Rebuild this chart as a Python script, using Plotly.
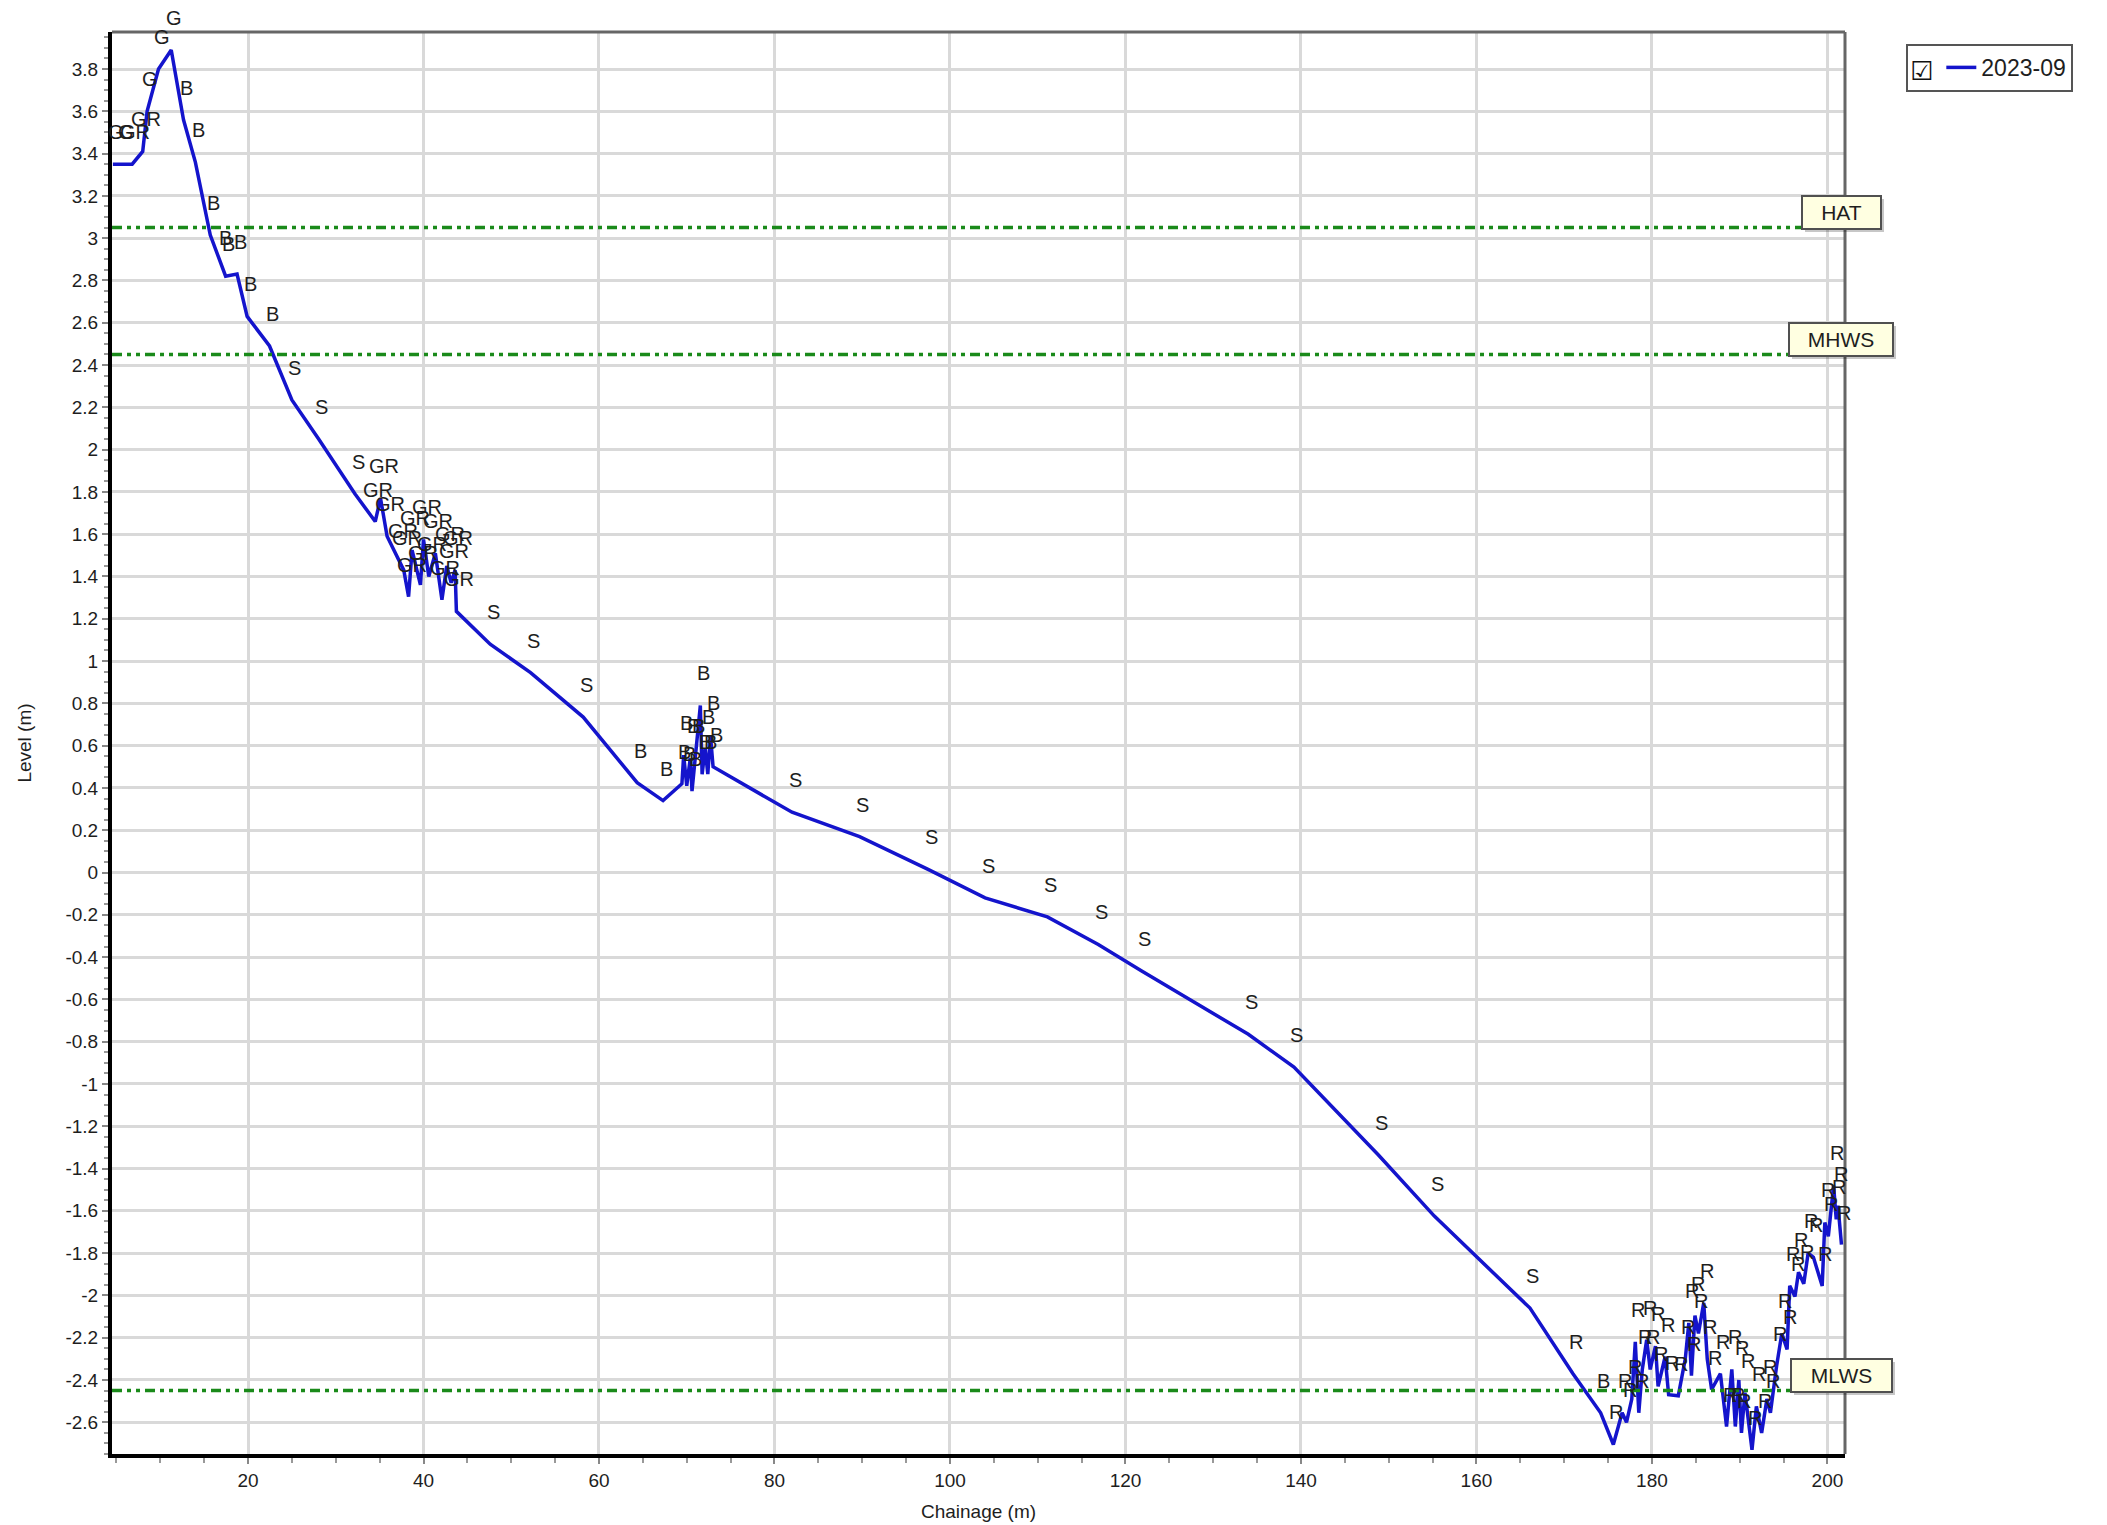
import plotly.graph_objects as go

# ---- survey profile (chainage m, level m, feature code) ----
chainage = [4.6, 5.7, 6.8, 8.0, 8.5, 9.8, 11.25, 12.65, 14.0, 15.7,
            17.1, 17.45, 18.75, 19.9, 22.45, 25.0, 28.05, 32.2,
            34.5, 35.1, 35.85, 37.35, 37.75, 38.3, 38.7, 39.65, 40.0, 40.6,
            41.35, 42.1, 42.65, 43.15, 43.6, 43.75,
            47.6, 52.2, 58.2, 64.35, 67.3,
            69.45, 69.65, 70.0, 70.4, 70.6, 70.95, 71.55, 71.75, 72.1, 72.4, 72.7, 73.0,
            82.0, 89.7, 97.5, 104.0, 111.1, 116.9, 121.8, 134.0, 139.2, 148.8, 155.2, 166.1,
            171.0, 174.15, 175.6, 176.6, 177.1, 177.7, 178.1, 178.5, 178.9, 179.4, 179.8,
            180.4, 180.7, 181.5, 181.9, 183.0, 183.8, 184.2, 184.5, 184.9, 185.3, 185.9,
            186.3, 186.8, 187.8, 188.5, 189.1, 189.5, 189.9, 190.2, 190.6, 191.4, 191.9,
            192.5, 193.1, 193.5, 194.2, 194.8, 195.4, 195.7, 196.3, 196.7, 197.3, 197.8,
            198.4, 199.4, 199.7, 200.1, 200.7, 201.0, 201.2, 201.6]
level = [3.35, 3.35, 3.35, 3.41, 3.60, 3.80, 3.89, 3.56, 3.36, 3.015,
         2.85, 2.82, 2.83, 2.63, 2.49, 2.235, 2.05, 1.79,
         1.66, 1.77, 1.59, 1.465, 1.43, 1.305, 1.525, 1.36, 1.575, 1.40,
         1.51, 1.29, 1.45, 1.37, 1.43, 1.235,
         1.08, 0.945, 0.735, 0.425, 0.34,
         0.42, 0.555, 0.41, 0.54, 0.385, 0.54, 0.79, 0.465, 0.585, 0.465, 0.65, 0.50,
         0.285, 0.17, 0.015, -0.12, -0.21, -0.34, -0.465, -0.765, -0.92, -1.335, -1.625, -2.06,
         -2.37, -2.555, -2.705, -2.555, -2.60, -2.49, -2.22, -2.555, -2.35, -2.21, -2.35,
         -2.24, -2.43, -2.29, -2.47, -2.475, -2.30, -2.13, -2.38, -2.095, -2.18, -2.035,
         -2.30, -2.445, -2.37, -2.62, -2.35, -2.62, -2.40, -2.65, -2.46, -2.73, -2.525,
         -2.65, -2.49, -2.555, -2.335, -2.18, -2.255, -1.955, -2.005, -1.89, -1.945, -1.80,
         -1.82, -1.955, -1.655, -1.72, -1.48, -1.64, -1.575, -1.76]
codes = ["G", "G", "GR", "GR", "G", "G", "G", "B", "B", "B",
         "B", "B", "B", "B", "B", "S", "S", "S",
         "GR", "GR", "GR", "GR", "GR", "GR", "GR", "GR", "GR", "GR",
         "GR", "GR", "GR", "GR", "GR", "GR",
         "S", "S", "S", "B", "B",
         "B", "B", "B", "B", "B", "B", "B", "B", "B", "B", "B", "B",
         "S", "S", "S", "S", "S", "S", "S", "S", "S", "S", "S", "S",
         "R", "B", "R", "R", "R", "R", "R", "R", "R", "R", "R",
         "R", "R", "R", "R", "R", "R", "R", "R", "R", "R", "R",
         "R", "R", "R", "R", "R", "R", "R", "R", "R", "R", "R",
         "R", "R", "R", "R", "R", "R", "R", "R", "R", "R", "R",
         "R", "R", "R", "R", "R", "R", "R", "R"]
series_name = "2023-09"

# ---- tidal levels ----
tide_names = ["HAT", "MHWS", "MLWS"]
tide_levels = [3.05, 2.45, -2.45]

# ---- axis ticks ----
x_tick_vals = [20, 40, 60, 80, 100, 120, 140, 160, 180, 200]
x_tick_text = ["20", "40", "60", "80", "100", "120", "140", "160", "180", "200"]
y_tick_vals = [3.8, 3.6, 3.4, 3.2, 3.0, 2.8, 2.6, 2.4, 2.2, 2.0, 1.8, 1.6, 1.4, 1.2, 1.0,
               0.8, 0.6, 0.4, 0.2, 0.0, -0.2, -0.4, -0.6, -0.8, -1.0, -1.2, -1.4, -1.6,
               -1.8, -2.0, -2.2, -2.4, -2.6]
y_tick_text = ["3.8", "3.6", "3.4", "3.2", "3", "2.8", "2.6", "2.4", "2.2", "2", "1.8", "1.6",
               "1.4", "1.2", "1", "0.8", "0.6", "0.4", "0.2", "0", "-0.2", "-0.4", "-0.6",
               "-0.8", "-1", "-1.2", "-1.4", "-1.6", "-1.8", "-2", "-2.2", "-2.4", "-2.6"]

FONT = "Liberation Sans, Arial, sans-serif"

fig = go.Figure()
fig.add_trace(go.Scatter(
    x=chainage, y=level, mode="lines", name=series_name,
    line=dict(color="#1414CC", width=3.5),
    showlegend=True, hoverinfo="skip",
))

# plot frame (top / right borders, grey)
fig.add_shape(type="line", xref="paper", yref="paper", x0=0, x1=1, y0=1, y1=1,
              line=dict(color="#666666", width=3))
fig.add_shape(type="line", xref="paper", yref="paper", x0=1, x1=1, y0=0, y1=1,
              line=dict(color="#666666", width=3))

annotations = []
for cx, lv, cd in zip(chainage, level, codes):
    annotations.append(dict(
        x=cx, y=lv, xref="x", yref="y", text=cd, showarrow=False,
        xanchor="center", yanchor="middle", xshift=3, yshift=32,
        font=dict(family=FONT, size=20, color="#1e1e1e"),
    ))

box_width = {"HAT": 69, "MHWS": 94, "MLWS": 91}
for nm, lv in zip(tide_names, tide_levels):
    fig.add_hline(y=lv, line=dict(color="#1A8A1A", width=3.5,
                                  dash="10px,5px,4px,5px,4px,5px"))
    # drop shadow
    annotations.append(dict(
        x=201.55, y=lv, xref="x", yref="y", text=nm, showarrow=False,
        xanchor="center", yanchor="middle", xshift=3, yshift=12,
        width=box_width[nm], borderpad=4, borderwidth=2,
        bgcolor="rgba(0,0,0,0.22)", bordercolor="rgba(0,0,0,0)",
        font=dict(family=FONT, size=21, color="rgba(0,0,0,0)"),
    ))
    annotations.append(dict(
        x=201.55, y=lv, xref="x", yref="y", text=nm, showarrow=False,
        xanchor="center", yanchor="middle", xshift=0, yshift=15,
        width=box_width[nm], borderpad=4, borderwidth=2,
        bgcolor="#FFFFE1", bordercolor="#505050",
        font=dict(family=FONT, size=21, color="#1e1e1e"),
    ))

fig.update_layout(
    width=2107, height=1525,
    margin=dict(l=112, r=262, t=32, b=71, autoexpand=False),
    paper_bgcolor="white", plot_bgcolor="white",
    font=dict(family=FONT, size=19, color="#1e1e1e"),
    annotations=annotations,
    showlegend=True,
    legend=dict(
        x=1.0352, y=0.9916, xanchor="left", yanchor="top",
        bgcolor="white", bordercolor="#555555", borderwidth=2,
        itemwidth=30,
        font=dict(family=FONT, size=23, color="#1e1e1e"),
        title=dict(text="\u2611", side="left",
                   font=dict(family="DejaVu Sans", size=26, color="#111")),
    ),
)

fig.update_xaxes(
    range=[4.5, 202.0], tickvals=x_tick_vals, ticktext=x_tick_text,
    automargin=False,
    showgrid=True, gridcolor="#D9D9D9", gridwidth=2.5, zeroline=False,
    showline=True, linecolor="black", linewidth=4,
    ticks="outside", ticklen=6, tickcolor="#888888", tickwidth=1.5,
    minor=dict(dtick=5, tick0=0, ticks="outside", ticklen=5, tickcolor="#999999", showgrid=False),
    tickfont=dict(family=FONT, size=19, color="#1e1e1e"),
    title=dict(text="Chainage (m)", standoff=16, font=dict(family=FONT, size=19)),
)
fig.update_yaxes(
    range=[-2.75, 3.975], tickvals=y_tick_vals, ticktext=y_tick_text,
    automargin=False,
    showgrid=True, gridcolor="#D9D9D9", gridwidth=2.5, zeroline=False,
    showline=True, linecolor="black", linewidth=4,
    ticks="outside", ticklen=6, tickcolor="#888888", tickwidth=1.5,
    minor=dict(dtick=0.05, tick0=0, ticks="outside", ticklen=4, tickcolor="#999999", showgrid=False),
    tickfont=dict(family=FONT, size=19, color="#1e1e1e"),
    title=dict(text="Level (m)", standoff=30, font=dict(family=FONT, size=19)),
)

fig.write_html("out.html", post_script="document.body.style.margin='0';",
               config={"displayModeBar": False})
